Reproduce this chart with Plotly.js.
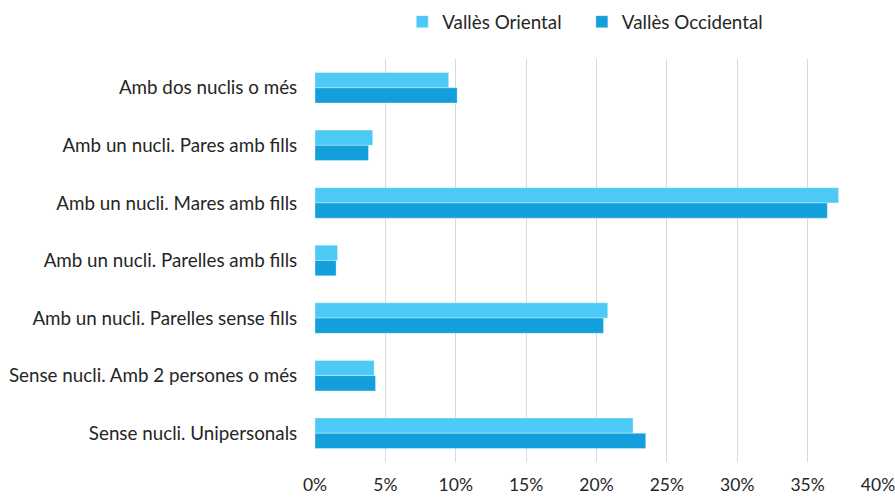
<!DOCTYPE html>
<html>
<head>
<meta charset="utf-8">
<script src="https://cdn.plot.ly/plotly-3.0.1.min.js"></script>
<style>html,body{margin:0;padding:0;background:#fff;}#chart{width:895px;height:497px;}</style>
</head>
<body>
<div id="chart"></div>
<script>
const categories = [
  "Amb dos nuclis o més",
  "Amb un nucli. Pares amb fills",
  "Amb un nucli. Mares amb fills",
  "Amb un nucli. Parelles amb fills",
  "Amb un nucli. Parelles sense fills",
  "Sense nucli. Amb 2 persones o més",
  "Sense nucli. Unipersonals"
];
const seriesNames = ["Vallès Oriental", "Vallès Occidental"];
const vallesOriental = [9.5, 4.1, 37.2, 1.6, 20.8, 4.2, 22.6];
const vallesOccidental = [10.1, 3.8, 36.4, 1.5, 20.5, 4.3, 23.5];
const tickValues = [0, 5, 10, 15, 20, 25, 30, 35, 40];
const tickLabels = ["0%", "5%", "10%", "15%", "20%", "25%", "30%", "35%", "40%"];

const colors = ["#4DC9F5", "#139FDB"];
const font = {family: "Lato, 'Open Sans', sans-serif", size: 18.8, color: "#262626"};
const xTickFont = {family: "Lato, 'Open Sans', sans-serif", size: 17.5, color: "#262626"};
const legendIds = ["legend", "legend2"];

const traces = [vallesOriental, vallesOccidental].map((vals, i) => ({
  type: "bar",
  orientation: "h",
  name: seriesNames[i],
  legend: legendIds[i],
  y: categories,
  x: vals,
  marker: {color: colors[i], line: {color: "rgba(255,255,255,0.35)", width: 1}},
  hoverinfo: "x+y"
}));

const legendBase = {
  orientation: "h",
  xanchor: "left",
  y: 1.092, yanchor: "middle",
  font: font,
  itemwidth: 30,
  bgcolor: "rgba(0,0,0,0)"
};

const layout = {
  width: 895, height: 497,
  margin: {l: 315, r: 17, t: 59, b: 35, autoexpand: false},
  paper_bgcolor: "#fff", plot_bgcolor: "#fff",
  font: font,
  barmode: "group",
  bargap: 0.47,
  bargroupgap: 0,
  showlegend: true,
  legend: Object.assign({}, legendBase, {x: 0.155}),
  legend2: Object.assign({}, legendBase, {x: 0.474}),
  xaxis: {
    range: [0, 40],
    tickmode: "array",
    tickvals: tickValues,
    ticktext: tickLabels,
    ticklabeloverflow: "allow",
    showgrid: true,
    gridcolor: "#D9D9D9",
    gridwidth: 1,
    zeroline: false,
    showline: false,
    ticks: "outside",
    ticklen: 7,
    tickcolor: "rgba(0,0,0,0)",
    tickfont: xTickFont,
    fixedrange: true
  },
  yaxis: {
    autorange: "reversed",
    showgrid: false,
    zeroline: false,
    showline: false,
    ticks: "outside",
    ticklen: 13,
    tickcolor: "rgba(0,0,0,0)",
    tickfont: font,
    fixedrange: true
  }
};

Plotly.newPlot("chart", traces, layout, {displayModeBar: false, staticPlot: true});
</script>
</body>
</html>
